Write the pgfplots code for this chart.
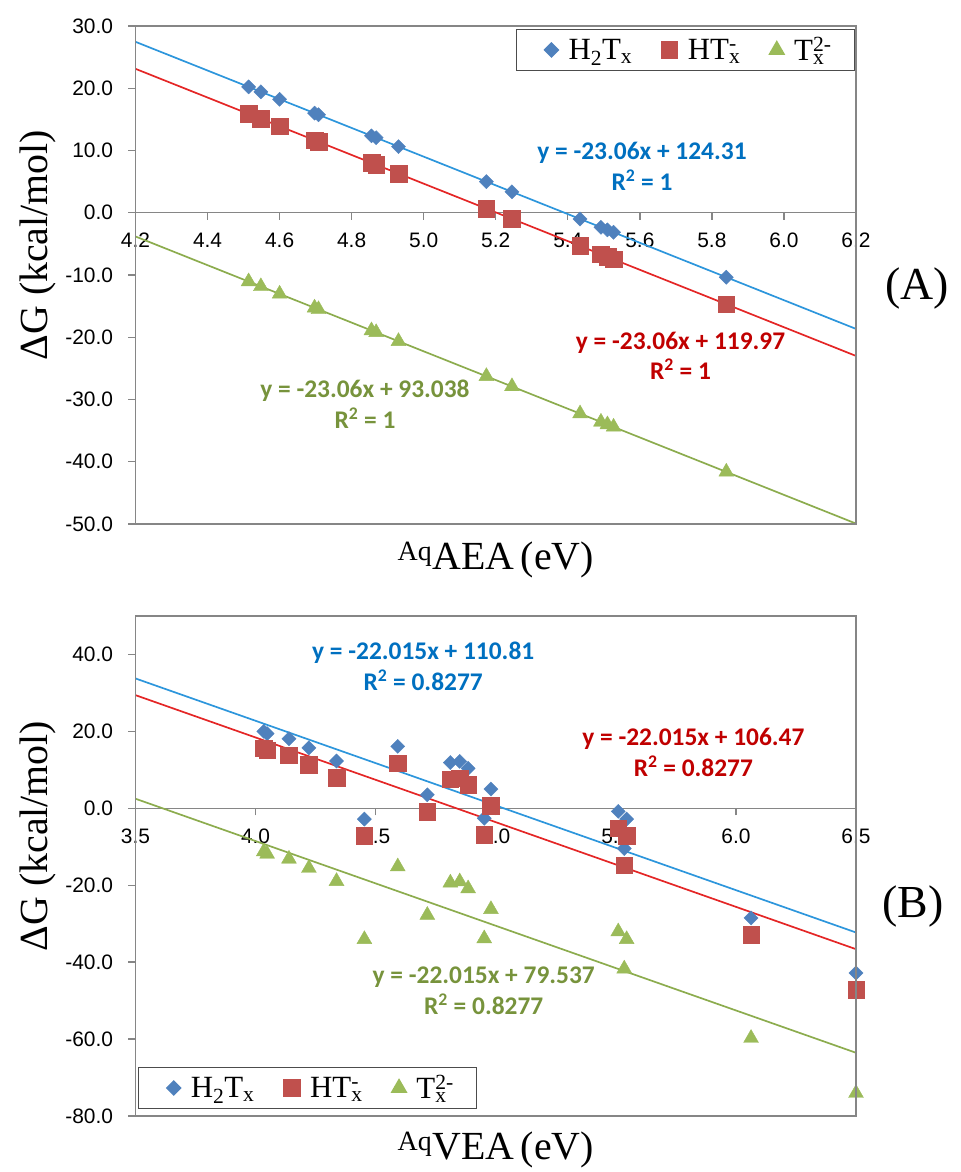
\documentclass[border=0pt]{standalone}
\usepackage{pgfplots}
\usepackage{pgfplotstable}
\pgfplotsset{compat=1.18}
\usepackage{fontspec}
\setmainfont{Liberation Sans}
\newfontfamily\timesf{Liberation Serif}
\newfontfamily\calib{Carlito}

\definecolor{axgray}{RGB}{134,134,134}
\definecolor{mblue}{RGB}{79,129,189}
\definecolor{mred}{RGB}{192,80,77}
\definecolor{mgreen}{RGB}{155,187,89}
\definecolor{lblue}{RGB}{45,150,220}
\definecolor{lred}{RGB}{228,38,38}
\definecolor{lgreen}{RGB}{140,172,78}
\definecolor{tblue}{RGB}{0,112,192}
\definecolor{tred}{RGB}{192,0,0}
\definecolor{tgreen}{RGB}{119,147,60}

% panel A: AEA
\pgfplotstableread{
x      h2     h1      t0
4.514  20.22  15.88  -11.05
4.548  19.43  15.09  -11.84
4.600  18.23  13.89  -13.04
4.697  16.00  11.66  -15.27
4.708  15.74  11.40  -15.53
4.855  12.35   8.01  -18.92
4.868  12.05   7.71  -19.22
4.930  10.62   6.28  -20.65
5.174   5.00   0.66  -26.27
5.245   3.36  -0.98  -27.91
5.434  -1.00  -5.34  -32.27
5.492  -2.34  -6.68  -33.61
5.510  -2.75  -7.09  -34.02
5.527  -3.14  -7.48  -34.41
5.840 -10.36 -14.70  -41.63
}\dataA

% panel B: VEA
\pgfplotstableread{
x      h2     h1      t0
4.034  20.00  15.66  -11.27
4.048  19.40  15.06  -11.87
4.139  18.10  13.76  -13.17
4.222  15.70  11.36  -15.57
4.337  12.30   7.96  -18.97
4.453  -2.80  -7.14  -34.07
4.592  16.10  11.76  -15.17
4.715   3.50  -0.84  -27.77
4.811  11.90   7.56  -19.37
4.850  12.20   7.86  -19.07
4.885  10.40   6.06  -20.87
4.952  -2.60  -6.94  -33.87
4.980   5.00   0.66  -26.27
5.510  -0.80  -5.14  -32.07
5.545  -2.80  -7.14  -34.07
5.535 -10.45 -14.79  -41.72
6.063 -28.50 -32.84  -59.77
6.500 -42.80 -47.14  -74.07
}\dataB

\tikzset{eq/.style={align=center, font=\calib\bfseries\fontsize{25.5}{31}\selectfont}}

\pgfplotsset{
  panel/.style={
    scale only axis, width=720.5bp,
    axis x line*=middle, axis y line*=left,
    axis line style={axgray, line width=1.3bp},
    every tick/.style={axgray, line width=1.3bp},
    tick align=outside, major tick length=7bp,
    hide obscured x ticks=false, hide obscured y ticks=false,
    ticklabel style={font=\fontsize{21}{25}\selectfont, text=black},
    xticklabel style={yshift=-10bp},
    yticklabel style={xshift=-12bp},
    label style={font=\timesf\fontsize{40}{44}\selectfont},
    ylabel={ΔG (kcal/mol)},
    ylabel style={at={(axis description cs:-0.135,0.56)}, anchor=center},
    legend columns=3,
    legend cell align=left,
    legend style={draw=black!70, line width=1.2bp, font=\timesf\fontsize{31}{33}\selectfont,
      inner xsep=28bp, inner ysep=6bp,
      /tikz/every odd column/.append style={column sep=8bp},
      /tikz/every even column/.append style={column sep=27bp}},
    legend image code/.code={\draw[mark repeat=2,mark phase=2,##1] plot coordinates {(0bp,0bp)(8bp,0bp)(16bp,0bp)};},
  },
  dia/.style={only marks, mark=square*, mark size=5bp, color=mblue, mark options={fill=mblue, draw=mblue, rotate=45}},
  sqr/.style={only marks, mark=square*, mark size=8.3bp, color=mred, mark options={fill=mred, draw=mred}},
  tri/.style={only marks, mark=triangle*, mark size=8.6bp, color=mgreen, mark options={fill=mgreen, draw=mgreen}},
  trend/.style={line width=1.7bp, forget plot},
}

\begin{document}
\begin{tikzpicture}
\path[use as bounding box] (0bp,0bp) rectangle (961bp,1172bp);

\begin{axis}[panel, name=A, at={(135.5bp,648bp)}, anchor=south west, height=498bp,
  xmin=4.2, xmax=6.2, ymin=-50, ymax=30,
  xtick={4.2,4.4,4.6,4.8,5.0,5.2,5.4,5.6,5.8,6.0,6.2},
  xticklabels={4.2,4.4,4.6,4.8,5.0,5.2,5.4,5.6,5.8,6.0,6.2},
  ytick={-50,-40,-30,-20,-10,0,10,20,30},
  yticklabels={-50.0,-40.0,-30.0,-20.0,-10.0,0.0,10.0,20.0,30.0},
  xlabel={\textsuperscript{Aq}AEA\,(eV)},
  xlabel style={at={(axis description cs:0.5,-0.072)}, anchor=center},
  legend style={at={(axis description cs:0.9986,0.994)}, anchor=north east},
]
\addplot[dia] table[x=x, y=h2] {\dataA};
\addlegendentry{H\textsubscript{2}T\textsubscript{x}}
\addplot[sqr] table[x=x, y=h1] {\dataA};
\addlegendentry{HT\rlap{\textsuperscript{-}}\textsubscript{x}}
\addplot[tri] table[x=x, y=t0] {\dataA};
\addlegendentry{T\rlap{\textsuperscript{2-}}\textsubscript{x}}
\addplot[trend, lblue] coordinates {(4.2,27.458)(6.2,-18.662)};
\addplot[trend, lred] coordinates {(4.2,23.118)(6.2,-23.002)};
\addplot[trend, lgreen] coordinates {(4.2,-3.814)(6.2,-49.934)};
\node[eq, text=tblue] at (axis cs:5.606,7.48) {y = -23.06x + 124.31\\R\textsuperscript{2} = 1};
\node[eq, text=tred] at (axis cs:5.713,-22.99) {y = -23.06x + 119.97\\R\textsuperscript{2} = 1};
\node[eq, text=tgreen] at (axis cs:4.837,-30.75) {y = -23.06x + 93.038\\R\textsuperscript{2} = 1};
\end{axis}
\draw[axgray, line width=1.3bp] (A.south west) rectangle (A.north east);
\node[font=\timesf\fontsize{46}{50}\selectfont] at ([xshift=61bp,yshift=-13bp]A.east) {(A)};

\begin{axis}[panel, name=B, at={(135.5bp,56bp)}, anchor=south west, height=500bp,
  xmin=3.5, xmax=6.5, ymin=-80, ymax=50,
  xtick={3.5,4.0,4.5,5.0,5.5,6.0,6.5},
  xticklabels={3.5,4.0,4.5,5.0,5.5,6.0,6.5},
  ytick={-80,-60,-40,-20,0,20,40},
  yticklabels={-80.0,-60.0,-40.0,-20.0,0.0,20.0,40.0},
  xlabel={\textsuperscript{Aq}VEA\,(eV)},
  xlabel style={at={(axis description cs:0.5,-0.068)}, anchor=center},
  legend style={at={(axis description cs:0.0035,0.014)}, anchor=south west},
]
\addplot[dia] table[x=x, y=h2] {\dataB};
\addlegendentry{H\textsubscript{2}T\textsubscript{x}}
\addplot[sqr] table[x=x, y=h1] {\dataB};
\addlegendentry{HT\rlap{\textsuperscript{-}}\textsubscript{x}}
\addplot[tri] table[x=x, y=t0] {\dataB};
\addlegendentry{T\rlap{\textsuperscript{2-}}\textsubscript{x}}
\addplot[trend, lblue] coordinates {(3.5,33.758)(6.5,-32.288)};
\addplot[trend, lred] coordinates {(3.5,29.418)(6.5,-36.628)};
\addplot[trend, lgreen] coordinates {(3.5,2.485)(6.5,-63.561)};
\node[eq, text=tblue] at (axis cs:4.698,36.87) {y = -22.015x + 110.81\\R\textsuperscript{2} = 0.8277};
\node[eq, text=tred] at (axis cs:5.823,14.51) {y = -22.015x + 106.47\\R\textsuperscript{2} = 0.8277};
\node[eq, text=tgreen] at (axis cs:4.950,-47.47) {y = -22.015x + 79.537\\R\textsuperscript{2} = 0.8277};
\end{axis}
\draw[axgray, line width=1.3bp] (B.south west) rectangle (B.north east);
\node[font=\timesf\fontsize{46}{50}\selectfont] at ([xshift=57bp,yshift=-40bp]B.east) {(B)};
\end{tikzpicture}
\end{document}
